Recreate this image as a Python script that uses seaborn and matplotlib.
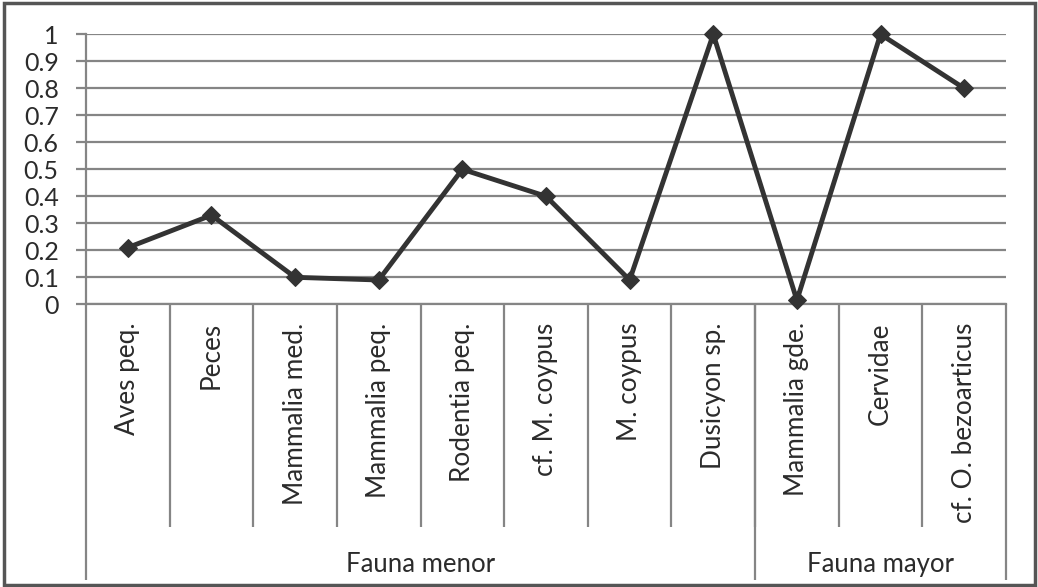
import matplotlib
matplotlib.use("Agg")
import matplotlib.pyplot as plt
from matplotlib.patches import Rectangle
from matplotlib.ticker import FixedLocator, FuncFormatter
import seaborn as sns
import pandas as pd

categories = ["Aves peq.", "Peces", "Mammalia med.", "Mammalia peq.", "Rodentia peq.",
              "cf. M. coypus", "M. coypus", "Dusicyon sp.", "Mammalia gde.", "Cervidae",
              "cf. O. bezoarticus"]
values = [0.21, 0.33, 0.10, 0.09, 0.50, 0.40, 0.09, 1.00, 0.015, 1.00, 0.80]
groups = ["Fauna menor", "Fauna mayor"]
group_sizes = [8, 3]
yticks = [0, 0.1, 0.2, 0.3, 0.4, 0.5, 0.6, 0.7, 0.8, 0.9, 1.0]

sns.set_theme(style="white")
plt.rcParams["font.family"] = ["Lato", "DejaVu Sans"]

TXT = "#2b2b2b"
GRID = "#858585"
LINE = "#333333"

df = pd.DataFrame({"cat": categories, "val": values})

fig = plt.figure(figsize=(10.38, 5.87), dpi=100)
ax = fig.add_axes([86 / 1038, 1 - 304.3 / 587, (1006 - 86) / 1038, 270 / 587])

sns.lineplot(data=df, x="cat", y="val", ax=ax, color=LINE, linewidth=3.5,
             marker="D", markersize=9.5, markeredgecolor=LINE, markerfacecolor=LINE,
             sort=False, clip_on=False, zorder=5)

n = len(categories)
ax.set_xlim(-0.5, n - 0.5)
ax.set_ylim(0, 1)
ax.set_xlabel("")
ax.set_ylabel("")

# y axis
ax.set_yticks(yticks)
ax.yaxis.set_major_formatter(FuncFormatter(lambda v, p: f"{v:g}"))
ax.yaxis.grid(True, color=GRID, linewidth=1.6)
ax.tick_params(axis="y", direction="out", length=7.2, width=1.6, color=GRID,
               pad=12.5, labelsize=18, labelcolor=TXT, left=True)

# x axis: category labels + dividers
ax.set_xticks(range(n))
ax.set_xticklabels(categories, rotation=90, va="top", ha="center")
ax.tick_params(axis="x", which="major", length=0, pad=13, labelsize=18.8, labelcolor=TXT)
ax.xaxis.set_minor_locator(FixedLocator([i + 0.5 for i in range(n - 1)]))
ax.tick_params(axis="x", which="minor", direction="out", length=160.5, width=1.6,
               color=GRID, bottom=True)

for side in ["top", "right"]:
    ax.spines[side].set_visible(False)
for side in ["left", "bottom"]:
    ax.spines[side].set_color(GRID)
    ax.spines[side].set_linewidth(1.6)

# group boundaries
bounds = [-0.5]
centers = []
start = -0.5
for s in group_sizes:
    centers.append(start + s / 2)
    start += s
    bounds.append(start)

sec_b = ax.secondary_xaxis("bottom")
sec_b.set_xticks(bounds)
sec_b.set_xticklabels([""] * len(bounds))
sec_b.tick_params(direction="out", length=198.5, width=1.6, color=GRID)
sec_b.spines["bottom"].set_visible(False)

sec_g = ax.secondary_xaxis("bottom")
sec_g.set_xticks(centers)
sec_g.set_xticklabels(groups)
sec_g.tick_params(length=0, pad=178, labelsize=18.5, labelcolor=TXT)
sec_g.spines["bottom"].set_visible(False)

# figure border
fig.patches.append(Rectangle((4.5 / 1038, 2.5 / 587), (1035 - 4.5) / 1038, (584 - 2.5) / 587,
                             transform=fig.transFigure, fill=False,
                             edgecolor="#555555", linewidth=2.5))

fig.savefig("out.png", dpi=100, facecolor="white")
